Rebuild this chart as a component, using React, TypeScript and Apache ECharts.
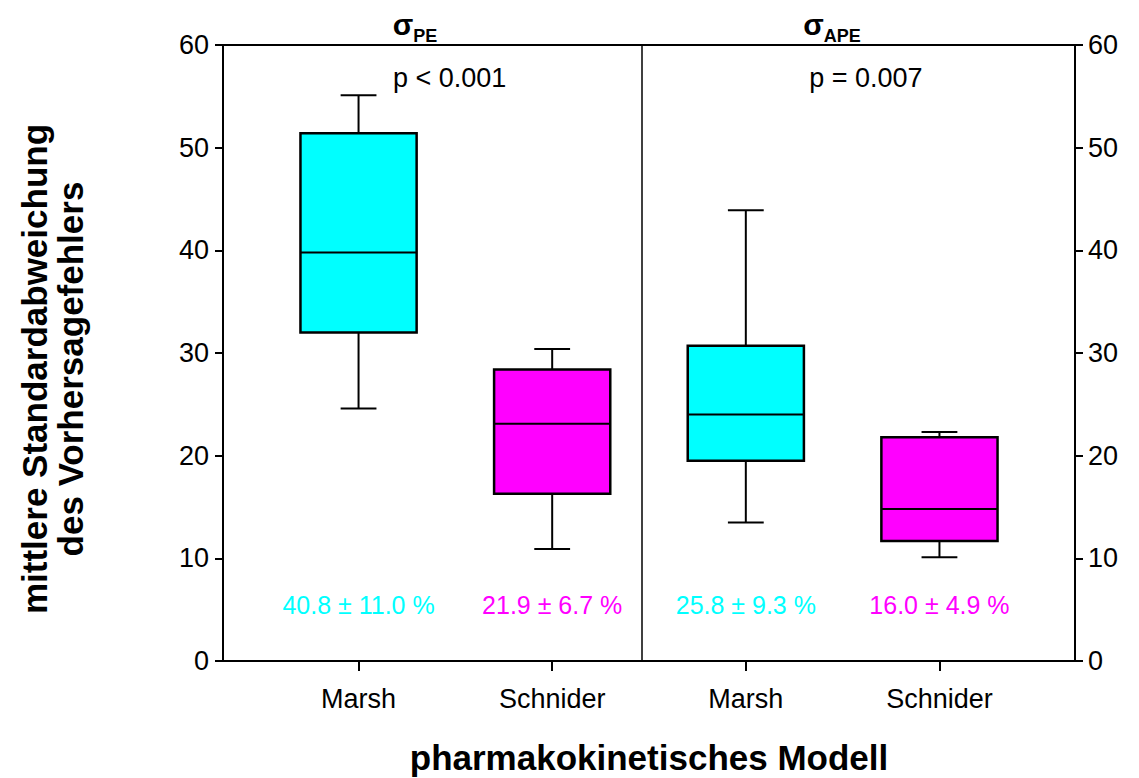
import React, { useEffect, useRef } from 'react';
import * as echarts from 'echarts';

const categories = ['Marsh', 'Schnider', 'Marsh', 'Schnider'];
const positions = [1, 2, 3, 4];
const whiskerLow = [24.6, 10.9, 13.5, 10.1];
const q1 = [32.0, 16.3, 19.5, 11.7];
const median = [39.8, 23.1, 24.0, 14.8];
const q3 = [51.4, 28.4, 30.7, 21.8];
const whiskerHigh = [55.1, 30.4, 43.9, 22.3];
const boxColors = ['#00FFFF', '#FF00FF', '#00FFFF', '#FF00FF'];
const meanLabels = ['40.8 ± 11.0 %', '21.9 ± 6.7 %', '25.8 ± 9.3 %', '16.0 ± 4.9 %'];
const meanLabelY = 5.5;
const pLabels = ['p < 0.001', 'p = 0.007'];
const pLabelX = [1.47, 3.62];
const pLabelY = 56.8;
const panelDivider = 2.46;
const panelTitleSubs = ['PE', 'APE'];
const panelTitleX = [415, 832];

const FONT = '"Liberation Sans", Arial, Helvetica, sans-serif';

export default function App() {
  const ref = useRef<HTMLDivElement>(null);
  useEffect(() => {
    if (!ref.current) return;
    const chart = echarts.init(ref.current, null, { renderer: 'svg' });
    const boxData = positions.map((p, i) => [p, whiskerLow[i], q1[i], median[i], q3[i], whiskerHigh[i], i]);
    const option: any = {
      animation: false,
      backgroundColor: '#ffffff',
      textStyle: { fontFamily: FONT },
      grid: {
        left: 223, right: 64, top: 45, bottom: 117,
        show: true, borderColor: '#000', borderWidth: 2, backgroundColor: 'transparent',
      },
      xAxis: {
        type: 'value', min: 0.3, max: 4.7,
        axisLine: { show: true, onZero: false, lineStyle: { color: '#000', width: 2 } },
        axisTick: { show: true, length: 10, inside: false, customValues: positions, lineStyle: { color: '#000', width: 2 } },
        axisLabel: {
          show: true, customValues: positions, margin: 24, fontSize: 27, color: '#000', fontFamily: FONT,
          formatter: (v: number) => categories[Math.round(v) - 1] ?? '',
        },
        splitLine: { show: false },
      },
      yAxis: [
        {
          type: 'value', min: 0, max: 60, interval: 10, position: 'left',
          axisLine: { show: true, lineStyle: { color: '#000', width: 2 } },
          axisTick: { show: true, length: 8, inside: false, lineStyle: { color: '#000', width: 2 } },
          axisLabel: { fontSize: 27, color: '#000', margin: 14, fontFamily: FONT },
          splitLine: { show: false },
        },
        {
          type: 'value', min: 0, max: 60, interval: 10, position: 'right',
          axisLine: { show: true, lineStyle: { color: '#000', width: 2 } },
          axisTick: { show: true, length: 8, inside: false, lineStyle: { color: '#000', width: 2 } },
          axisLabel: { fontSize: 27, color: '#000', margin: 13, fontFamily: FONT },
          splitLine: { show: false },
        },
      ],
      series: [
        {
          type: 'custom',
          data: boxData,
          encode: { x: 0, y: [1, 2, 3, 4, 5] },
          renderItem: (params: any, api: any) => {
            const x = api.value(0);
            const lo = api.coord([x, api.value(1)]);
            const a = api.coord([x, api.value(2)]);
            const m = api.coord([x, api.value(3)]);
            const b = api.coord([x, api.value(4)]);
            const hi = api.coord([x, api.value(5)]);
            const idx = api.value(6);
            const halfW = api.size([0.6, 0])[0] / 2;
            const capHalf = api.size([0.185, 0])[0] / 2;
            const cx = a[0];
            const ls = { stroke: '#000', lineWidth: 2 };
            return {
              type: 'group',
              children: [
                { type: 'line', shape: { x1: cx, y1: hi[1], x2: cx, y2: b[1] }, style: ls },
                { type: 'line', shape: { x1: cx - capHalf, y1: hi[1], x2: cx + capHalf, y2: hi[1] }, style: ls },
                { type: 'line', shape: { x1: cx, y1: a[1], x2: cx, y2: lo[1] }, style: ls },
                { type: 'line', shape: { x1: cx - capHalf, y1: lo[1], x2: cx + capHalf, y2: lo[1] }, style: ls },
                {
                  type: 'rect',
                  shape: { x: cx - halfW, y: b[1], width: halfW * 2, height: a[1] - b[1] },
                  style: { fill: boxColors[idx], stroke: '#000', lineWidth: 2.5 },
                },
                { type: 'line', shape: { x1: cx - halfW, y1: m[1], x2: cx + halfW, y2: m[1] }, style: ls },
              ],
            };
          },
          markLine: {
            silent: true, symbol: 'none', label: { show: false },
            lineStyle: { color: '#000', width: 1.5, type: 'solid' },
            data: [{ xAxis: panelDivider }],
          },
          z: 3,
        },
        {
          type: 'scatter',
          symbolSize: 0,
          itemStyle: { opacity: 1 },
          data: positions.map((p, i) => ({
            value: [p, meanLabelY],
            label: {
              show: true, position: 'inside', formatter: meanLabels[i],
              color: boxColors[i], fontSize: 25, fontFamily: FONT,
            },
          })),
          z: 4,
        },
        {
          type: 'scatter',
          symbolSize: 0,
          itemStyle: { opacity: 1 },
          data: pLabelX.map((px, i) => ({
            value: [px, pLabelY],
            label: {
              show: true, position: 'inside', formatter: pLabels[i],
              color: '#000', fontSize: 27, fontFamily: FONT,
            },
          })),
          z: 4,
        },
      ],
      graphic: [
        ...panelTitleSubs.map((sub, i) => ({
          type: 'text',
          x: panelTitleX[i], y: 24,
          style: {
            text: `{s|σ}{sub|${sub}}`,
            textAlign: 'center', textVerticalAlign: 'middle',
            rich: {
              s: { fontSize: 30, fontWeight: 'bold', fontFamily: FONT, fill: '#000', verticalAlign: 'bottom' },
              sub: { fontSize: 18, fontWeight: 'bold', fontFamily: FONT, fill: '#000', verticalAlign: 'bottom', padding: [0, 0, -6, 0] },
            },
          },
        })),
        {
          type: 'text',
          x: 52, y: 369, rotation: Math.PI / 2,
          style: {
            text: 'mittlere Standardabweichung\ndes Vorhersagefehlers',
            textAlign: 'center', textVerticalAlign: 'middle',
            fontSize: 35, fontWeight: 'bold', fontFamily: FONT, fill: '#000', lineHeight: 36,
          },
        },
        {
          type: 'text',
          x: 649, y: 757,
          style: {
            text: 'pharmakokinetisches Modell',
            textAlign: 'center', textVerticalAlign: 'middle',
            fontSize: 35, fontWeight: 'bold', fontFamily: FONT, fill: '#000',
          },
        },
      ],
    };
    chart.setOption(option);
    return () => chart.dispose();
  }, []);
  return (
    <div
      ref={ref}
      style={{ position: 'fixed', left: 0, top: 0, width: 1139, height: 778, background: '#fff' }}
    />
  );
}
